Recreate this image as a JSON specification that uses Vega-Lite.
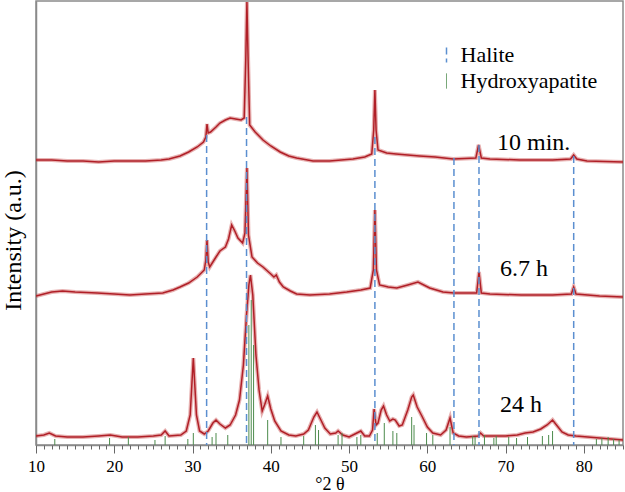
{
 "$schema": "https://vega.github.io/schema/vega-lite/v6.json",
 "width": 587, "height": 444,
 "autosize": {"type": "none"},
 "padding": {"left": 36, "top": 1, "right": 2, "bottom": 47},
 "background": "white",
 "config": {"view": {"stroke": "#8a8a8a", "strokeWidth": 1.5}, "font": "Liberation Serif"},
 "datasets": {
  "traces": [
   {"s":"10min","x":10,"y":285},{"s":"10min","x":12,"y":285},{"s":"10min","x":14,"y":284},{"s":"10min","x":16,"y":284},{"s":"10min","x":18,"y":283},{"s":"10min","x":20,"y":284},{"s":"10min","x":22,"y":284},{"s":"10min","x":24,"y":284},{"s":"10min","x":26,"y":285},{"s":"10min","x":27,"y":286},{"s":"10min","x":28.4,"y":289},{"s":"10min","x":29.5,"y":293},{"s":"10min","x":30.6,"y":298},{"s":"10min","x":31.4,"y":303},{"s":"10min","x":31.7,"y":308},{"s":"10min","x":31.85,"y":321},{"s":"10min","x":32.0,"y":312},{"s":"10min","x":32.3,"y":313},{"s":"10min","x":33.0,"y":318},{"s":"10min","x":33.5,"y":322},{"s":"10min","x":34.2,"y":325},{"s":"10min","x":34.8,"y":327},{"s":"10min","x":35.5,"y":326},{"s":"10min","x":36.2,"y":325},{"s":"10min","x":36.6,"y":327},{"s":"10min","x":36.8,"y":385},{"s":"10min","x":36.95,"y":443},{"s":"10min","x":37.1,"y":385},{"s":"10min","x":37.3,"y":320},{"s":"10min","x":38.0,"y":313},{"s":"10min","x":39.0,"y":305},{"s":"10min","x":40.0,"y":299},{"s":"10min","x":41.2,"y":293},{"s":"10min","x":42.3,"y":289},{"s":"10min","x":43.3,"y":287},{"s":"10min","x":45.4,"y":284},{"s":"10min","x":47.5,"y":284},{"s":"10min","x":49,"y":285},{"s":"10min","x":50.5,"y":286},{"s":"10min","x":52.0,"y":288},{"s":"10min","x":52.9,"y":291},{"s":"10min","x":53.15,"y":315},{"s":"10min","x":53.3,"y":355},{"s":"10min","x":53.45,"y":315},{"s":"10min","x":53.7,"y":295},{"s":"10min","x":54.8,"y":292},{"s":"10min","x":56,"y":291},{"s":"10min","x":59,"y":289},{"s":"10min","x":61,"y":288},{"s":"10min","x":63.3,"y":286},{"s":"10min","x":66.2,"y":287},{"s":"10min","x":66.55,"y":300},{"s":"10min","x":66.9,"y":287},{"s":"10min","x":68,"y":286},{"s":"10min","x":71.8,"y":285},{"s":"10min","x":76,"y":285},{"s":"10min","x":78.3,"y":286},{"s":"10min","x":78.7,"y":290},{"s":"10min","x":79.1,"y":286},{"s":"10min","x":80.4,"y":284},{"s":"10min","x":85,"y":283},
   {"s":"6.7h","x":10,"y":149},{"s":"6.7h","x":11,"y":151},{"s":"6.7h","x":12,"y":153},{"s":"6.7h","x":13.4,"y":154},{"s":"6.7h","x":15,"y":153},{"s":"6.7h","x":17.8,"y":152},{"s":"6.7h","x":20,"y":151},{"s":"6.7h","x":22,"y":150},{"s":"6.7h","x":24,"y":151},{"s":"6.7h","x":26.2,"y":152},{"s":"6.7h","x":27.5,"y":155},{"s":"6.7h","x":28.4,"y":158},{"s":"6.7h","x":29.5,"y":162},{"s":"6.7h","x":30.6,"y":168},{"s":"6.7h","x":31.5,"y":175},{"s":"6.7h","x":31.7,"y":185},{"s":"6.7h","x":31.85,"y":205},{"s":"6.7h","x":32.0,"y":183},{"s":"6.7h","x":32.2,"y":178},{"s":"6.7h","x":33.0,"y":188},{"s":"6.7h","x":33.5,"y":194},{"s":"6.7h","x":34.2,"y":198},{"s":"6.7h","x":34.6,"y":206},{"s":"6.7h","x":35.0,"y":220},{"s":"6.7h","x":35.4,"y":214},{"s":"6.7h","x":35.8,"y":207},{"s":"6.7h","x":36.4,"y":202},{"s":"6.7h","x":36.7,"y":212},{"s":"6.7h","x":36.95,"y":277},{"s":"6.7h","x":37.15,"y":210},{"s":"6.7h","x":37.6,"y":188},{"s":"6.7h","x":38.3,"y":182},{"s":"6.7h","x":39.0,"y":178},{"s":"6.7h","x":40.0,"y":171},{"s":"6.7h","x":40.4,"y":168},{"s":"6.7h","x":40.7,"y":170},{"s":"6.7h","x":41.1,"y":163},{"s":"6.7h","x":41.6,"y":158},{"s":"6.7h","x":42.5,"y":154},{"s":"6.7h","x":43.3,"y":151},{"s":"6.7h","x":45,"y":150},{"s":"6.7h","x":47.5,"y":151},{"s":"6.7h","x":49.7,"y":153},{"s":"6.7h","x":51.5,"y":155},{"s":"6.7h","x":52.7,"y":157},{"s":"6.7h","x":53.1,"y":175},{"s":"6.7h","x":53.3,"y":235},{"s":"6.7h","x":53.5,"y":175},{"s":"6.7h","x":53.9,"y":160},{"s":"6.7h","x":55,"y":158},{"s":"6.7h","x":56.1,"y":157},{"s":"6.7h","x":57.5,"y":160},{"s":"6.7h","x":58.8,"y":163},{"s":"6.7h","x":60.3,"y":157},{"s":"6.7h","x":62,"y":153},{"s":"6.7h","x":63.4,"y":152},{"s":"6.7h","x":66.3,"y":152},{"s":"6.7h","x":66.6,"y":173},{"s":"6.7h","x":66.9,"y":152},{"s":"6.7h","x":68,"y":151},{"s":"6.7h","x":72,"y":150},{"s":"6.7h","x":76,"y":150},{"s":"6.7h","x":78.4,"y":151},{"s":"6.7h","x":78.7,"y":158},{"s":"6.7h","x":79.0,"y":151},{"s":"6.7h","x":82,"y":149},{"s":"6.7h","x":85,"y":148},
   {"s":"24h","x":10,"y":9},{"s":"24h","x":11,"y":10},{"s":"24h","x":11.7,"y":12},{"s":"24h","x":12.5,"y":9},{"s":"24h","x":14,"y":8},{"s":"24h","x":16,"y":8},{"s":"24h","x":18,"y":9},{"s":"24h","x":19.5,"y":10},{"s":"24h","x":21,"y":8},{"s":"24h","x":23,"y":8},{"s":"24h","x":25,"y":9},{"s":"24h","x":26.0,"y":10},{"s":"24h","x":26.5,"y":14},{"s":"24h","x":27.0,"y":9},{"s":"24h","x":28.5,"y":10},{"s":"24h","x":29.2,"y":14},{"s":"24h","x":29.7,"y":30},{"s":"24h","x":30.1,"y":87},{"s":"24h","x":30.5,"y":30},{"s":"24h","x":30.9,"y":14},{"s":"24h","x":31.5,"y":11},{"s":"24h","x":32.0,"y":14},{"s":"24h","x":32.6,"y":22},{"s":"24h","x":33.0,"y":25},{"s":"24h","x":33.5,"y":21},{"s":"24h","x":34.2,"y":17},{"s":"24h","x":34.8,"y":20},{"s":"24h","x":35.5,"y":30},{"s":"24h","x":36.0,"y":45},{"s":"24h","x":36.5,"y":80},{"s":"24h","x":36.9,"y":130},{"s":"24h","x":37.2,"y":160},{"s":"24h","x":37.4,"y":170},{"s":"24h","x":37.7,"y":150},{"s":"24h","x":38.1,"y":90},{"s":"24h","x":38.5,"y":55},{"s":"24h","x":38.9,"y":34},{"s":"24h","x":39.2,"y":40},{"s":"24h","x":39.6,"y":49},{"s":"24h","x":40.0,"y":36},{"s":"24h","x":40.5,"y":24},{"s":"24h","x":41.3,"y":14},{"s":"24h","x":42.3,"y":10},{"s":"24h","x":43.2,"y":9},{"s":"24h","x":44.2,"y":11},{"s":"24h","x":44.8,"y":15},{"s":"24h","x":45.5,"y":28},{"s":"24h","x":45.9,"y":33},{"s":"24h","x":46.4,"y":25},{"s":"24h","x":46.9,"y":17},{"s":"24h","x":47.6,"y":11},{"s":"24h","x":48.3,"y":12},{"s":"24h","x":48.6,"y":14},{"s":"24h","x":49.2,"y":10},{"s":"24h","x":50.0,"y":8},{"s":"24h","x":51.0,"y":12},{"s":"24h","x":51.5,"y":14},{"s":"24h","x":52.0,"y":9},{"s":"24h","x":52.6,"y":9},{"s":"24h","x":53.0,"y":15},{"s":"24h","x":53.2,"y":36},{"s":"24h","x":53.45,"y":20},{"s":"24h","x":53.7,"y":22},{"s":"24h","x":54.1,"y":35},{"s":"24h","x":54.4,"y":39},{"s":"24h","x":54.8,"y":30},{"s":"24h","x":55.2,"y":24},{"s":"24h","x":55.6,"y":26},{"s":"24h","x":55.9,"y":25},{"s":"24h","x":56.4,"y":19},{"s":"24h","x":56.8,"y":20},{"s":"24h","x":57.5,"y":35},{"s":"24h","x":58.0,"y":48},{"s":"24h","x":58.2,"y":50},{"s":"24h","x":58.7,"y":38},{"s":"24h","x":59.3,"y":29},{"s":"24h","x":60.0,"y":18},{"s":"24h","x":60.7,"y":12},{"s":"24h","x":61.7,"y":10},{"s":"24h","x":62.4,"y":15},{"s":"24h","x":62.9,"y":27},{"s":"24h","x":63.3,"y":12},{"s":"24h","x":64.0,"y":9},{"s":"24h","x":65.0,"y":8},{"s":"24h","x":66.5,"y":9},{"s":"24h","x":66.8,"y":12},{"s":"24h","x":67.2,"y":9},{"s":"24h","x":68.5,"y":9},{"s":"24h","x":70,"y":9},{"s":"24h","x":71.5,"y":10},{"s":"24h","x":72.5,"y":12},{"s":"24h","x":73.5,"y":13},{"s":"24h","x":74.5,"y":16},{"s":"24h","x":75.3,"y":20},{"s":"24h","x":76.0,"y":25},{"s":"24h","x":76.5,"y":20},{"s":"24h","x":77.2,"y":13},{"s":"24h","x":78.0,"y":10},{"s":"24h","x":79.0,"y":9},{"s":"24h","x":80.5,"y":8},{"s":"24h","x":82,"y":7},{"s":"24h","x":85,"y":5}
  ],
  "sticks": [
   {"p":"Halite","x":31.8,"h":310},{"p":"Halite","x":36.9,"h":328},{"p":"Halite","x":53.3,"h":308},{"p":"Halite","x":63.4,"h":287},{"p":"Halite","x":66.6,"h":300},{"p":"Halite","x":78.7,"h":289},
   {"p":"Hydroxyapatite","x":12.4,"h":6},{"p":"Hydroxyapatite","x":19.4,"h":7},{"p":"Hydroxyapatite","x":21.8,"h":8},{"p":"Hydroxyapatite","x":25.2,"h":5},{"p":"Hydroxyapatite","x":26.5,"h":9},{"p":"Hydroxyapatite","x":29.4,"h":6},{"p":"Hydroxyapatite","x":30.1,"h":12},{"p":"Hydroxyapatite","x":32.5,"h":8},{"p":"Hydroxyapatite","x":33.0,"h":12},{"p":"Hydroxyapatite","x":34.5,"h":10},{"p":"Hydroxyapatite","x":37.2,"h":120},{"p":"Hydroxyapatite","x":37.5,"h":145},{"p":"Hydroxyapatite","x":37.8,"h":100},{"p":"Hydroxyapatite","x":39.6,"h":25},{"p":"Hydroxyapatite","x":41.3,"h":8},{"p":"Hydroxyapatite","x":44.2,"h":9},{"p":"Hydroxyapatite","x":45.7,"h":20},{"p":"Hydroxyapatite","x":46.1,"h":15},{"p":"Hydroxyapatite","x":48.6,"h":10},{"p":"Hydroxyapatite","x":49.1,"h":12},{"p":"Hydroxyapatite","x":51.0,"h":8},{"p":"Hydroxyapatite","x":51.5,"h":10},{"p":"Hydroxyapatite","x":53.6,"h":12},{"p":"Hydroxyapatite","x":54.5,"h":22},{"p":"Hydroxyapatite","x":55.6,"h":14},{"p":"Hydroxyapatite","x":56.1,"h":12},{"p":"Hydroxyapatite","x":58.0,"h":28},{"p":"Hydroxyapatite","x":58.3,"h":20},{"p":"Hydroxyapatite","x":59.9,"h":12},{"p":"Hydroxyapatite","x":60.7,"h":10},{"p":"Hydroxyapatite","x":62.9,"h":18},{"p":"Hydroxyapatite","x":65.8,"h":9},{"p":"Hydroxyapatite","x":66.1,"h":8},{"p":"Hydroxyapatite","x":67.3,"h":10},{"p":"Hydroxyapatite","x":68.5,"h":7},{"p":"Hydroxyapatite","x":68.8,"h":9},{"p":"Hydroxyapatite","x":70.4,"h":8},{"p":"Hydroxyapatite","x":71.4,"h":7},{"p":"Hydroxyapatite","x":72.8,"h":8},{"p":"Hydroxyapatite","x":74.7,"h":9},{"p":"Hydroxyapatite","x":75.5,"h":10},{"p":"Hydroxyapatite","x":76.0,"h":14},{"p":"Hydroxyapatite","x":81.6,"h":6},{"p":"Hydroxyapatite","x":82.3,"h":7},{"p":"Hydroxyapatite","x":83.1,"h":8},{"p":"Hydroxyapatite","x":83.8,"h":6},{"p":"Hydroxyapatite","x":84.5,"h":5}
  ],
  "labels": [
   {"x":68.9,"y":302,"t":"10 min."},{"x":69.3,"y":176,"t":"6.7 h"},{"x":69.3,"y":40,"t":"24 h"}
  ]
 },
 "resolve": {"axis": {"x": "independent"}},
 "layer": [
  {
   "data": {"name": "traces"},
   "mark": {"type": "line", "color": "#c43c3c", "strokeWidth": 4, "opacity": 0.4, "clip": true},
   "encoding": {
    "x": {"field": "x", "type": "quantitative",
     "scale": {"domain": [10, 85], "nice": false, "zero": false},
     "axis": {
      "orient": "bottom",
      "values": [10,20,30,40,50,60,70,80],
      "tickSize": 8, "tickColor": "#666", "domainColor": "#8a8a8a", "domainWidth": 1.5,
      "labelFontSize": 17, "labelColor": "black", "labelFont": "Liberation Serif",
      "labelPadding": 5, "labelOverlap": false, "labelFlush": false, "grid": false,
      "title": "°2 θ", "titleFontSize": 18, "titleFont": "Liberation Serif", "titleFontWeight": "normal", "titleColor": "black", "titlePadding": 1
     }},
    "y": {"field": "y", "type": "quantitative",
     "scale": {"domain": [0, 444], "nice": false, "zero": false},
     "axis": {"ticks": false, "labels": false, "grid": false, "domainColor": "#8a8a8a", "domainWidth": 1.5,
      "title": "Intensity (a.u.)", "titleFontSize": 24, "titleFont": "Liberation Serif", "titleFontWeight": "normal", "titleColor": "black",
      "titleX": -23, "titleY": 239, "titleAngle": -90, "titleAlign": "center", "titleBaseline": "middle"}},
    "detail": {"field": "s", "type": "nominal"}
   }
  },
  {
   "data": {"name": "traces"},
   "mark": {"type": "line", "color": "#b01f27", "strokeWidth": 1.5, "clip": true},
   "encoding": {
    "x": {"field": "x", "type": "quantitative",
     "axis": {
      "orient": "bottom",
      "values": [10,11,12,13,14,15,16,17,18,19,20,21,22,23,24,25,26,27,28,29,30,31,32,33,34,35,36,37,38,39,40,41,42,43,44,45,46,47,48,49,50,51,52,53,54,55,56,57,58,59,60,61,62,63,64,65,66,67,68,69,70,71,72,73,74,75,76,77,78,79,80,81,82,83,84,85],
      "tickSize": 4, "tickColor": "#666", "labels": false, "domain": false, "grid": false, "title": null
     }},
    "y": {"field": "y", "type": "quantitative"},
    "detail": {"field": "s", "type": "nominal"}
   }
  },
  {
   "data": {"name": "sticks"},
   "mark": {"type": "rule"},
   "encoding": {
    "x": {"field": "x", "type": "quantitative", "axis": null},
    "y": {"field": "h", "type": "quantitative"},
    "y2": {"datum": 0},
    "color": {"field": "p", "type": "nominal",
     "scale": {"domain": ["Halite", "Hydroxyapatite"], "range": ["#5b8fd0", "#4d8b4d"]},
     "legend": {"orient": "none", "legendX": 399.5, "legendY": 43, "title": null, "symbolType": "M0,-1L0,1", "symbolSize": 225, "symbolStrokeWidth": 1.5, "labelFontSize": 22, "labelFont": "Liberation Serif", "labelColor": "black", "labelOffset": 3, "rowPadding": 4, "padding": 0}},
    "strokeDash": {"field": "p", "type": "nominal",
     "scale": {"domain": ["Halite", "Hydroxyapatite"], "range": [[7, 4], [1, 0]]},
     "legend": {"orient": "none", "legendX": 399.5, "legendY": 43, "title": null, "symbolType": "M0,-1L0,1", "symbolSize": 225, "symbolStrokeWidth": 1.5, "labelFontSize": 22, "labelFont": "Liberation Serif", "labelColor": "black", "labelOffset": 3, "rowPadding": 4, "padding": 0}},
    "strokeWidth": {"field": "p", "type": "nominal",
     "scale": {"domain": ["Halite", "Hydroxyapatite"], "range": [1.5, 1]},
     "legend": null}
   }
  },
  {
   "data": {"name": "labels"},
   "mark": {"type": "text", "align": "left", "baseline": "middle", "fontSize": 24, "font": "Liberation Serif", "color": "black"},
   "encoding": {
    "x": {"field": "x", "type": "quantitative", "axis": null},
    "y": {"field": "y", "type": "quantitative"},
    "text": {"field": "t", "type": "nominal"}
   }
  }
 ]
}
